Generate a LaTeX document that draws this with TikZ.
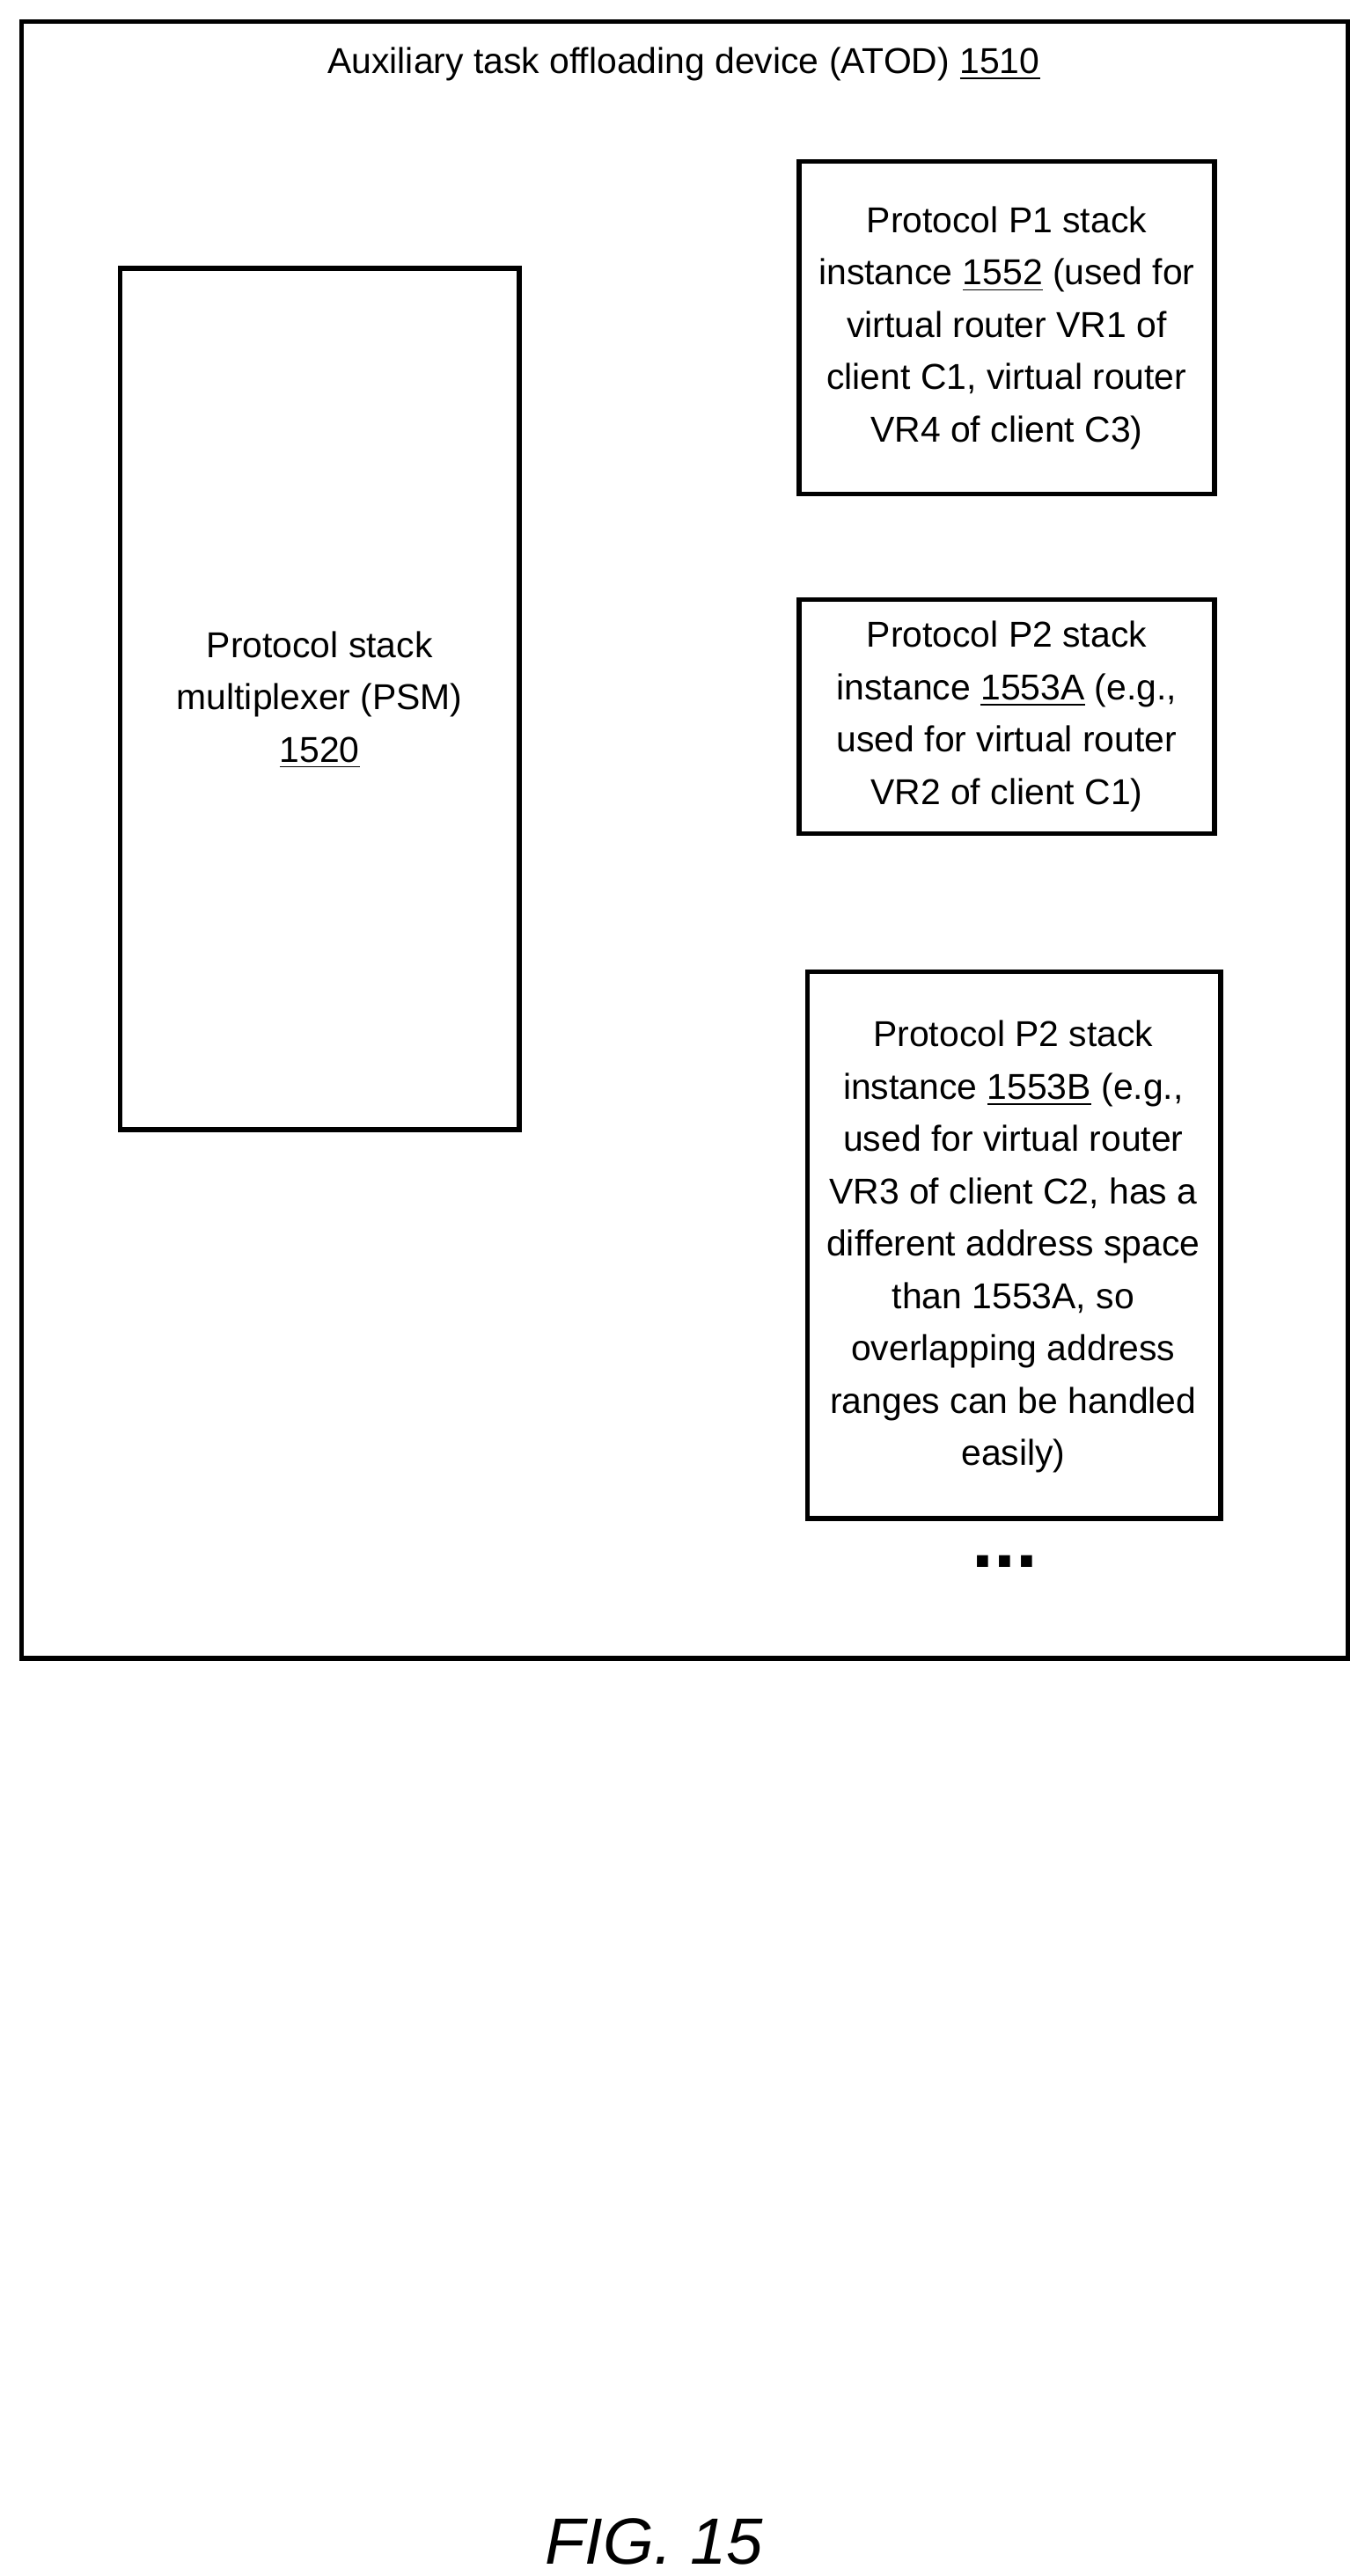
\documentclass[tikz,border=0pt]{standalone}
\usepackage{fontspec}
\setmainfont{Liberation Sans}
\usetikzlibrary{positioning}
\tikzset{
	every path/.style = {line width=1.5pt},
	blk/.style={draw, inner sep=0pt},
	lbl/.style={align=center, font=\fontsize{11}{16}\selectfont}
}

\begin{document}
\begin{tikzpicture}[x=0.0177cm, y=-0.0177cm]
		\useasboundingbox (0,0) rectangle (828,1564);
		\draw[blk] (13,13) rectangle (818,1007);
		\node[lbl] (atod) at (415,39) {Auxiliary task offloading device (ATOD) \underline{1510}};
		% multiplexer
		\draw[blk] (73,163) rectangle (315,686);
		\node[lbl] (psm) at (194,425) {Protocol stack\\multiplexer (PSM)\\\underline{1520}};
		% stack instances
		\draw[blk] (485,98) rectangle (737,300);
		\node[lbl] (p1) at (611,199) {Protocol P1 stack\\instance \underline{1552} (used for\\virtual router VR1 of\\client C1, virtual router\\VR4 of client C3)};
		\draw[blk] (485,364) rectangle (737,506);
		\node[lbl] (p2a) at (611,435) {Protocol P2 stack\\instance \underline{1553A} (e.g.,\\used for virtual router\\VR2 of client C1)};
		\draw[blk] (490,590) rectangle (741,922);
		\node[lbl] (p2b) at (615,757) {Protocol P2 stack\\instance \underline{1553B} (e.g.,\\used for virtual router\\VR3 of client C2, has a\\different address space\\than 1553A, so\\overlapping address\\ranges can be handled\\easily)};
		\node[font=\fontsize{24}{24}\selectfont\bfseries] (dots) at (610,948) {...};
		\node[font=\fontsize{20}{24}\selectfont\itshape] (fig) at (397,1543) {FIG. 15};
\end{tikzpicture}
\end{document}
